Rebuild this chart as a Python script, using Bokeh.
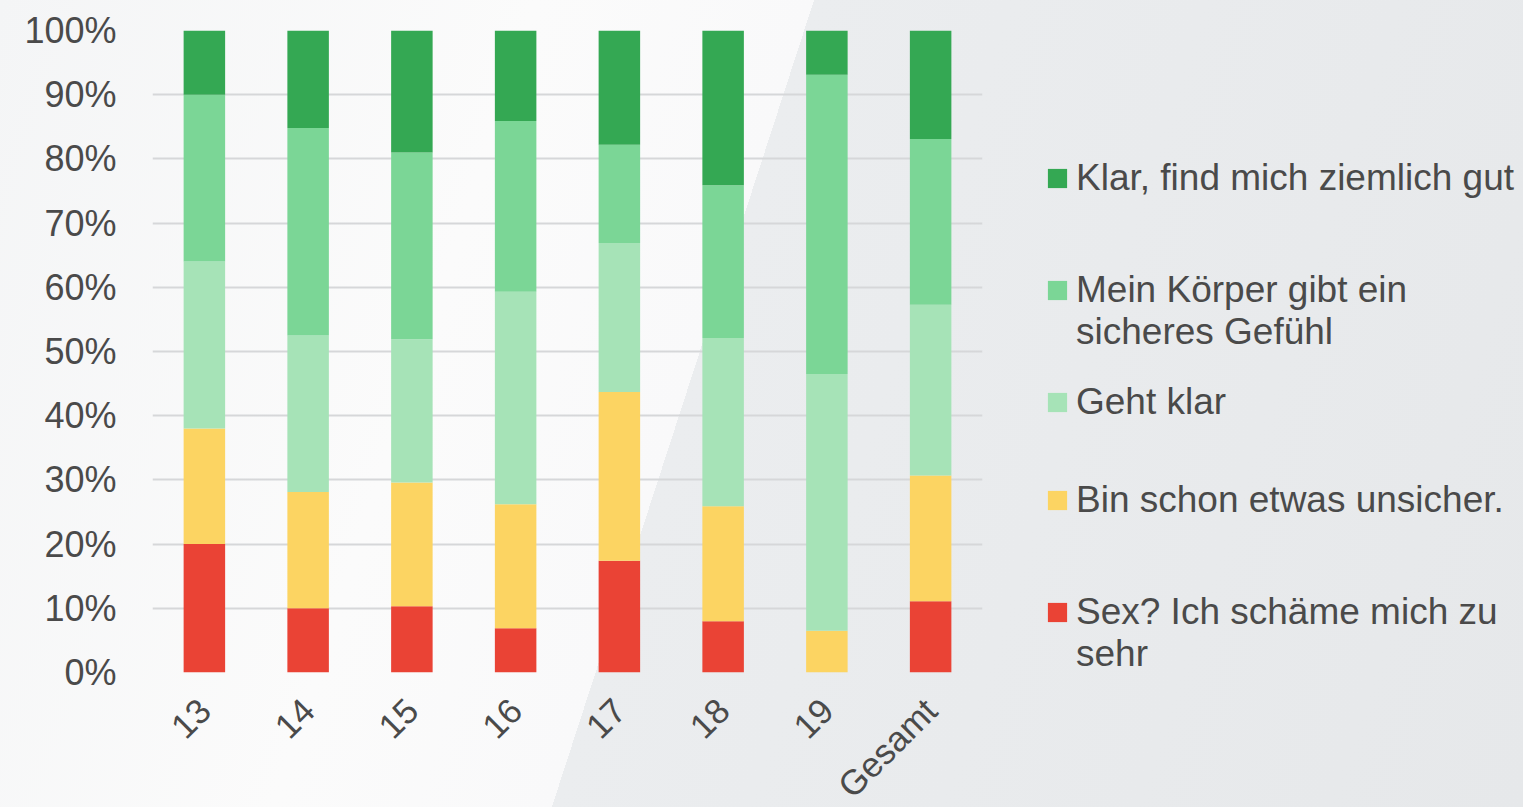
import math
from bokeh.plotting import figure
from bokeh.models import (Range1d, FactorRange, Legend, LegendItem, PrintfTickFormatter,
                          FixedTicker, ColumnDataSource)
from bokeh.embed import file_html
from bokeh.resources import INLINE

categories = ["13", "14", "15", "16", "17", "18", "19", "Gesamt"]
sex = [20.0, 10.0, 10.3, 6.9, 17.4, 8.0, 0.0, 11.1]
unsicher = [18.0, 18.1, 19.3, 19.3, 26.3, 17.9, 6.5, 19.6]
geht = [26.0, 24.4, 22.3, 33.1, 23.2, 26.2, 40.0, 26.6]
koerper = [26.0, 32.3, 29.1, 26.6, 15.3, 23.8, 46.6, 25.8]
klar = [10.0, 15.2, 19.0, 14.1, 17.8, 24.1, 6.9, 16.9]
series_labels = ["Sex? Ich schäme mich zu\nsehr", "Bin schon etwas unsicher.", "Geht klar",
                 "Mein Körper gibt ein\nsicheres Gefühl", "Klar, find mich ziemlich gut"]
y_ticks = [0, 10, 20, 30, 40, 50, 60, 70, 80, 90, 100]

colors = ["#ea4335", "#fcd462", "#a6e3b7", "#7bd696", "#34a853"]
FONT = "Liberation Sans"
TXT = "#4a4a4a"

keys = ["sex", "unsicher", "geht", "koerper", "klar"]
source = ColumnDataSource(dict(cat=categories, sex=sex, unsicher=unsicher, geht=geht,
                               koerper=koerper, klar=klar))

p = figure(x_range=FactorRange(*categories), y_range=Range1d(0, 100),
           frame_width=830, frame_height=642,
           min_border_left=152, min_border_right=541, min_border_top=30, min_border_bottom=134,
           output_backend="svg", toolbar_location=None)

p.background_fill_alpha = 0
p.border_fill_alpha = 0
p.outline_line_color = None

renderers = p.vbar_stack(keys, x="cat", width=0.4, color=colors, line_color=None, source=source)

p.yaxis.ticker = FixedTicker(ticks=y_ticks)
p.yaxis.formatter = PrintfTickFormatter(format="%d%%")
for ax in (p.xaxis, p.yaxis):
    ax.axis_line_color = None
    ax.major_tick_line_color = None
    ax.minor_tick_line_color = None
    ax.major_label_text_font = FONT
    ax.major_label_text_color = TXT
p.yaxis.major_label_text_font_size = "36px"
p.xaxis.major_label_text_font_size = "35px"
p.yaxis.major_label_standoff = 30
p.xaxis.major_label_standoff = 26
p.xaxis.major_label_orientation = math.pi / 4
p.xgrid.grid_line_color = None
p.ygrid.grid_line_color = "#d6d7d9"
p.ygrid.grid_line_width = 2

# a leading blank line keeps the first text line level with the legend square
items = []
for lab, r in zip(series_labels, renderers):
    shown = "\n" + lab if "\n" in lab else lab
    items.append(LegendItem(label=shown, renderers=[r]))
items = items[::-1]
legend = Legend(items=items, location=(63, -3), orientation="vertical",
                glyph_width=24, glyph_height=24, label_standoff=7,
                label_text_font=FONT, label_text_font_size="37px", label_text_color=TXT,
                label_height=98, spacing=0, padding=0, margin=0,
                border_line_color=None, background_fill_alpha=0)
p.add_layout(legend, "right")

html = file_html(p, INLINE)
style = ("<style>html{background:linear-gradient(108deg,#f4f5f6 0%,#fbfbfb 30%,#f9f9fa 45.6%,"
         "#ebedef 45.6%,#e6e8ea 100%) no-repeat;min-height:100%;}</style>")
html = html.replace("<head>", "<head>" + style, 1)
open("out.html", "w").write(html)
